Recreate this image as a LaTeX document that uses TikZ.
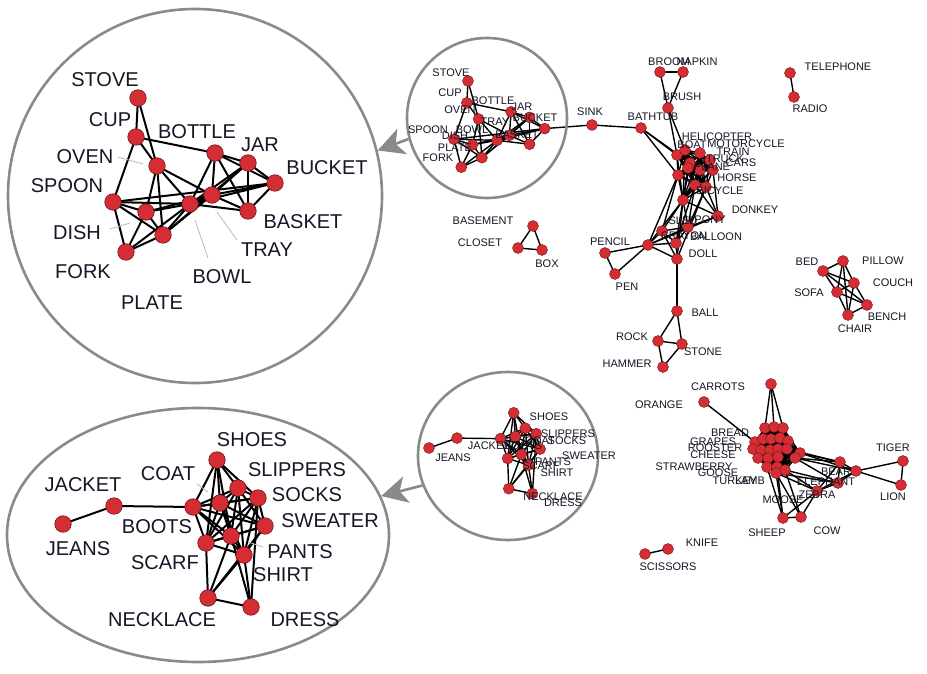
\documentclass[tikz,border=0pt]{standalone}
\usepackage{fontspec}
\setmainfont{Liberation Sans}
\usetikzlibrary{shapes.geometric,arrows.meta}
\pgfdeclarelayer{bglayer}
\pgfdeclarelayer{edgelayer}
\pgfsetlayers{bglayer,edgelayer,main}
\definecolor{nodered}{RGB}{212,46,52}
\definecolor{nodeedge}{RGB}{120,20,25}
\definecolor{ringgray}{RGB}{138,138,138}
\definecolor{txt}{RGB}{22,22,38}
\tikzset{
 bnode/.style={circle,fill=nodered,draw=nodeedge,line width=0.6pt,minimum size=16.5pt,inner sep=0},
 snode/.style={circle,fill=nodered,draw=nodeedge,line width=0.4pt,minimum size=11pt,inner sep=0},
 bedge/.style={line width=2pt,black},
 sedge/.style={line width=1.4pt,black},
 blbl/.style={font=\fontsize{20}{22}\selectfont,text=txt,inner sep=0},
 slbl/.style={font=\fontsize{11}{12}\selectfont,text=txt,inner sep=0},
 ring/.style={draw=ringgray,line width=2.6pt,inner sep=0},
 leader/.style={draw=gray!55,line width=0.8pt},
 garrow/.style={draw=ringgray,fill=ringgray,line width=2.6pt,-{Stealth[length=26pt,width=27pt,inset=7pt]}},
}
\newcommand\kitchennodes[2]{%
 \foreach \n/\x/\y in {stove/138/98,cup/136/137,oven/157/166,bottle/215/153,jar/248/163,bucket/275/183,spoon/113/202,dish/146/212,tray/212/195,bowl/190/204,basket/248/211,plate/163/235,fork/126/252}
   \node[#2node] (#1\n) at (\x,\y) {};
}
\newcommand\kitchenedges[2]{%
 \begin{pgfonlayer}{edgelayer}
 \foreach \a/\b in {stove/cup,stove/oven,cup/oven,cup/bottle,cup/spoon,oven/bowl,oven/plate,oven/dish,oven/tray,bottle/jar,bottle/bucket,bottle/tray,bottle/bowl,bottle/basket,jar/bucket,jar/basket,jar/tray,jar/bowl,jar/plate,bucket/basket,bucket/tray,bucket/bowl,bucket/spoon,tray/basket,tray/bowl,tray/plate,bowl/spoon,bowl/dish,bowl/plate,bowl/fork,spoon/dish,spoon/fork,spoon/plate,dish/fork,dish/plate,plate/fork,tray/dish,basket/bowl}
   \draw[#2edge] (#1\a.center) -- (#1\b.center);
 \end{pgfonlayer}
}
\newcommand\clothesnodes[2]{%
 \foreach \n/\x/\y in {shoes/217/460,slippers/238/488,coat/220/503,socks/258/498,jacket/114/506,jeans/63/524,boots/193/507,sweater/265/526,pants/231/536,scarf/206/543,shirt/244/555,necklace/208/598,dress/251/607}
   \node[#2node] (#1\n) at (\x,\y) {};
}
\newcommand\clothesedges[2]{%
 \begin{pgfonlayer}{edgelayer}
 \foreach \a/\b in {jeans/jacket,jacket/boots,boots/shoes,boots/coat,boots/slippers,boots/socks,boots/sweater,boots/pants,boots/scarf,boots/shirt,shoes/slippers,shoes/socks,shoes/coat,shoes/pants,shoes/scarf,slippers/socks,slippers/coat,slippers/sweater,slippers/pants,slippers/scarf,slippers/shirt,coat/socks,coat/sweater,coat/pants,coat/scarf,coat/shirt,socks/sweater,socks/pants,socks/scarf,socks/shirt,sweater/pants,sweater/shirt,sweater/scarf,pants/scarf,pants/shirt,pants/necklace,scarf/shirt,scarf/necklace,shirt/necklace,shirt/dress,necklace/dress,dress/socks,dress/pants,necklace/sweater}
   \draw[#2edge] (#1\a.center) -- (#1\b.center);
 \end{pgfonlayer}
}
\begin{document}
\begin{tikzpicture}[x=1pt,y=-1pt]
\begin{pgfonlayer}{bglayer}
\fill[white] (0,0) rectangle (927,674);
\end{pgfonlayer}
\useasboundingbox (0,0) rectangle (927,674);

% rings and arrows
\node[ring,circle,minimum size=374pt] (kbig) at (195,196) {};
\node[ring,circle,minimum size=160pt] (ksmall) at (487,118) {};
\node[ring,ellipse,minimum width=382pt,minimum height=254pt] (cbig) at (198,535) {};
\node[ring,ellipse,minimum width=180pt,minimum height=168pt] (csmall) at (508,456) {};
\draw[garrow] (ksmall.195) -- (kbig.14);
\draw[garrow] (csmall.199) -- (cbig.12);

% big kitchen cluster
\kitchennodes{bk}{b}
\kitchenedges{bk}{b}
\foreach \n/\t/\x/\y in {stove/STOVE/105/80,cup/CUP/110/120,oven/OVEN/85/157,bottle/BOTTLE/197/132,jar/JAR/260/145,bucket/BUCKET/327/168,spoon/SPOON/67/186,dish/DISH/77/233,tray/TRAY/267/250,bowl/BOWL/222/277,basket/BASKET/303/222,plate/PLATE/152/303,fork/FORK/83/272}
  \node[blbl] (lbk\n) at (\x,\y) {\t};
\coordinate (ldA1) at (118,157); \coordinate (ldA2) at (143,164);
\coordinate (ldB1) at (110,229); \coordinate (ldB2) at (130,223);
\coordinate (ldC1) at (237,240); \coordinate (ldC2) at (217,212);
\coordinate (ldD1) at (208,258); \coordinate (ldD2) at (195,220);
\draw[leader] (ldA1) -- (ldA2);
\draw[leader] (ldB1) -- (ldB2);
\draw[leader] (ldC1) -- (ldC2);
\draw[leader] (ldD1) -- (ldD2);

% small kitchen cluster
\begin{scope}[shift={(390.7,26.1)},scale=0.56]
\kitchennodes{sk}{s}
\end{scope}
\kitchenedges{sk}{s}
\foreach \n/\t/\x/\y in {stove/STOVE/451/73,cup/CUP/450/93,oven/OVEN/460/110,bottle/BOTTLE/493/101,jar/JAR/522/107,bucket/BUCKET/535/118,spoon/SPOON/428/130,dish/DISH/455/136,bowl/BOWL/472/130,tray/TRAY/495/122,basket/BASKET/517/135,plate/PLATE/455/148,fork/FORK/438/158}
  \node[slbl] (lsk\n) at (\x,\y) {\t};

% big clothes cluster
\clothesnodes{bc}{b}
\clothesedges{bc}{b}
\foreach \n/\t/\x/\y in {shoes/SHOES/252/440,slippers/SLIPPERS/297/470,coat/COAT/168/474,socks/SOCKS/307/495,jacket/JACKET/83/485,jeans/JEANS/78/549,boots/BOOTS/157/527,sweater/SWEATER/330/521,pants/PANTS/300/552,scarf/SCARF/165/563,shirt/SHIRT/283/575,necklace/NECKLACE/162/620,dress/DRESS/305/620}
  \node[blbl] (lbc\n) at (\x,\y) {\t};
\coordinate (ldE1) at (197,484); \coordinate (ldE2) at (208,492);
\coordinate (ldF1) at (263,547); \coordinate (ldF2) at (248,542);
\draw[leader] (ldE1) -- (ldE2);
\draw[leader] (ldF1) -- (ldF2);

% small clothes cluster
\begin{scope}[shift={(394.35,159.8)},scale=0.55]
\clothesnodes{sc}{s}
\end{scope}
\clothesedges{sc}{s}
\foreach \n/\t/\x/\y in {shoes/SHOES/549/417,slippers/SLIPPERS/568/434,jacket/JACKET/489/446,boots/BOOTS/523/446,coat/COAT/540/441,socks/SOCKS/567/441,sweater/SWEATER/589/456,pants/PANTS/553/462,scarf/SCARF/541/466,shirt/SHIRT/557/473,jeans/JEANS/453/458,necklace/NECKLACE/553/497,dress/DRESS/563/503}
  \node[slbl] (lsc\n) at (\x,\y) {\t};

% main network nodes
\foreach \n/\x/\y in {sink/592/125,bathtub/641/128,brush/668/108,broom/660/72,napkin/683/72,telephone/790/73,radio/794/97,
  donkey/718/216,pony/688/227,sled/662/231,crayon/648/245,balloon/676/243,doll/677/259,pencil/605/253,pen/615/274,
  ball/677/311,rock/658/341,stone/682/344,hammer/663/367,basement/533/226,closet/518/248,box/542/250,
  bed/823/271,pillow/843/261,couch/854/283,sofa/837/292,bench/867/305,chair/848/315,
  carrots/771/384,orange/704/402,bear/840/462,hub/856/471,elephant/838/483,zebra/817/491,sheep/783/518,cow/801/517,
  tiger/903/461,lion/901/485,knife/668/549,scissors/645/554}
  \node[snode] (m\n) at (\x,\y) {};
\foreach \i/\x/\y in {1/677/155,2/685/150,3/700/153,4/710/160,5/690/163,6/700/170,7/713/170,8/678/175,9/688/168,10/695/185,11/706/187,12/683/200}
  \node[snode] (v\i) at (\x,\y) {};
\foreach \i/\x/\y in {1/765/428,2/774/427,3/783/428,4/755/442,5/763/439,6/771/439,7/780/438,8/788/441,9/753/449,10/761/450,11/770/450,12/778/449,13/787/449,14/800/453,15/758/458,16/768/458,17/778/457,18/795/458,19/767/467,20/777/467,21/785/470,22/776/473}
  \node[snode] (f\i) at (\x,\y) {};

% main network edges
\begin{pgfonlayer}{edgelayer}
\foreach \a in {1,...,12}{\foreach \b in {1,...,12}{\ifnum\a<\b \draw[sedge] (v\a.center) -- (v\b.center);\fi}}
\foreach \a in {1,...,22}{\foreach \b in {1,...,22}{\ifnum\a<\b \draw[sedge] (f\a.center) -- (f\b.center);\fi}}
\foreach \a/\b in {sink/bathtub,broom/napkin,broom/brush,napkin/brush,telephone/radio,
  donkey/pony,donkey/crayon,pony/crayon,pony/sled,pony/balloon,sled/crayon,sled/balloon,sled/doll,crayon/balloon,crayon/doll,balloon/doll,
  crayon/pencil,crayon/pen,pencil/pen,doll/ball,ball/rock,ball/stone,rock/stone,rock/hammer,stone/hammer,
  basement/closet,basement/box,closet/box,
  bed/pillow,bed/couch,bed/sofa,bed/bench,pillow/couch,pillow/sofa,pillow/chair,couch/sofa,couch/bench,couch/chair,sofa/chair,sofa/bench,chair/bench,
  hub/tiger,hub/lion,tiger/lion,hub/bear,hub/elephant,hub/zebra,zebra/sheep,zebra/cow,sheep/cow,zebra/bear,zebra/elephant,bear/elephant,knife/scissors}
  \draw[sedge] (m\a.center) -- (m\b.center);
\foreach \a/\b in {bathtub/1,bathtub/8,bathtub/5,brush/1,brush/5,crayon/12,sled/12,balloon/12,doll/12,pony/12,donkey/12,crayon/8,sled/8,donkey/10,donkey/11,pony/11,pony/10,balloon/10,doll/11,donkey/7}
  \draw[sedge] (m\a.center) -- (v\b.center);
\foreach \a/\b in {carrots/1,carrots/2,carrots/3,orange/4,hub/14,hub/18,bear/14,bear/18,bear/13,elephant/18,elephant/22,zebra/21,zebra/22,sheep/20,sheep/22,sheep/19,cow/21,cow/22,elephant/21}
  \draw[sedge] (m\a.center) -- (f\b.center);
\draw[sedge] (msink.center) -- (skbucket.center);
\end{pgfonlayer}

% main network labels
\foreach \n/\t/\x/\y in {sink/SINK/590/112,bathtub/BATHTUB/653/117,brush/BRUSH/682/97,broom/BROOM/669/62,napkin/NAPKIN/697/62,telephone/TELEPHONE/838/67,radio/RADIO/810/109,
  helicopter/HELICOPTER/717/137,boat/BOAT/692/145,motorcycle/MOTORCYCLE/746/144,train/TRAIN/733/152,truck/TRUCK/725/159,cars/CARS/741/163,plane/PLANE/712/167,horse/HORSE/737/178,bicycle/BICYCLE/720/191,
  donkey/DONKEY/755/210,sled/SLED/683/221,pony/PONY/710/220,crayon/CRAYON/684/236,balloon/BALLOON/716/237,doll/DOLL/703/254,pencil/PENCIL/610/242,pen/PEN/627/287,
  ball/BALL/705/313,rock/ROCK/632/337,stone/STONE/703/352,hammer/HAMMER/627/364,basement/BASEMENT/483/221,closet/CLOSET/480/243,box/BOX/547/264,
  bed/BED/807/262,pillow/PILLOW/883/261,couch/COUCH/893/283,sofa/SOFA/809/293,bench/BENCH/887/317,chair/CHAIR/855/329,
  carrots/CARROTS/718/387,orange/ORANGE/659/405,tiger/TIGER/893/448,lion/LION/893/497,bear/BEAR/836/472,elephant/ELEPHANT/826/482,zebra/ZEBRA/817/495,moose/MOOSE/783/500,
  sheep/SHEEP/767/533,cow/COW/827/531,knife/KNIFE/702/543,scissors/SCISSORS/668/567,
  bread/BREAD/730/433,grapes/GRAPES/713/442,rooster/ROOSTER/715/448,cheese/CHEESE/713/455,strawberry/STRAWBERRY/694/467,goose/GOOSE/718/473,turkey/TURKEY/735/481,lamb/LAMB/750/481}
  \node[slbl] (lm\n) at (\x,\y) {\t};
\end{tikzpicture}
\end{document}
